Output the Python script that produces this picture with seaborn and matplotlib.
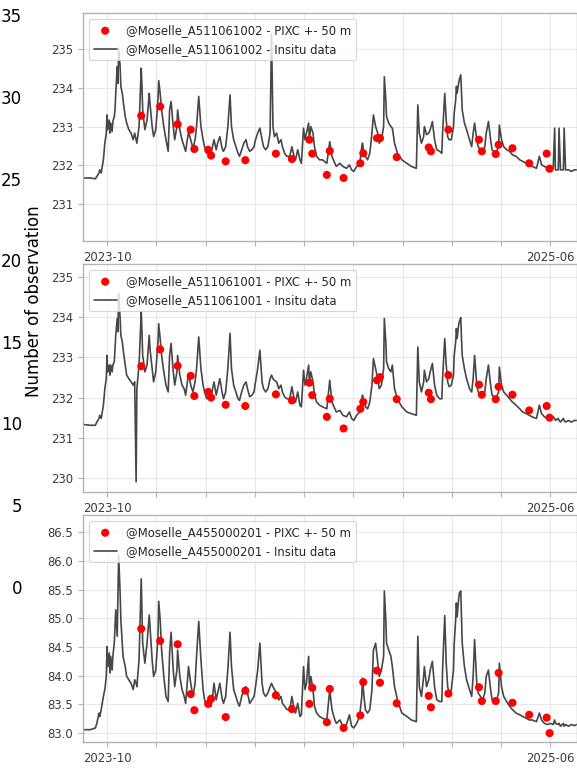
import numpy as np
import pandas as pd
import matplotlib
matplotlib.use("Agg")
import matplotlib.pyplot as plt
import seaborn as sns

sns.set_theme(style="white")
plt.rcParams['font.family'] = ['DejaVu Sans']

START = pd.Timestamp("2023-10-01")

# in-situ sampling: day offsets from 2023-10-01
insitu_days = [
    -33, -23, -16, -14, -11, -10, -8, -5, -3, -1,
    0, 1, 3, 4, 5, 7, 8, 10, 11, 12,
    14, 15, 16, 18, 19, 21, 22, 25, 27, 30,
    33, 36, 38, 40, 41, 44, 47, 48, 49, 52,
    55, 58, 59, 62, 64, 67, 70, 71, 73, 75,
    78, 81, 84, 86, 88, 91, 93, 96, 97, 100,
    103, 106, 108, 111, 112, 115, 118, 121, 123, 126,
    129, 132, 134, 137, 140, 143, 145, 147, 150, 152,
    155, 158, 160, 163, 166, 169, 171, 174, 177, 180,
    182, 185, 188, 191, 193, 196, 199, 202, 204, 207,
    210, 213, 215, 218, 221, 224, 226, 228, 230, 233,
    236, 239, 241, 244, 247,
    251, 254, 257, 259, 262, 265, 267, 270, 272, 274,
    277, 278, 280, 283, 285, 288, 292, 296, 302, 306,
    309, 313, 315, 320, 324, 329, 333, 336, 339, 343,
    347, 350, 351, 353, 355, 358, 361, 364, 366, 369,
    372, 374, 377, 380, 381, 383, 384, 387, 390, 392,
    395, 399, 405, 412, 418, 425, 427, 429, 432, 435,
    436, 439, 442, 444, 447, 450, 453, 457, 460, 461,
    464, 466, 468, 470, 473, 476, 477, 479, 480, 481,
    483, 484, 486, 487, 488, 491, 494, 498, 501, 503,
    505, 508, 510, 513, 516, 519, 521, 524, 527, 529,
    534, 538, 539, 542, 545, 549, 553, 557, 562, 567,
    571, 576, 580, 584, 590, 594, 597, 601, 605, 609,
    613, 615, 616, 620, 621, 623, 627, 628, 630, 634,
    638, 642, 645,
]

insitu_A511061002 = [
    231.67, 231.67, 231.65, 231.71, 231.80, 231.88, 231.80, 232.14, 232.57, 232.83,
    233.30, 232.92, 233.17, 232.83, 233.09, 232.87, 233.13, 233.26, 233.43, 233.86,
    234.55, 234.12, 235.03, 234.55, 234.04, 233.86, 233.69, 233.26, 233.09, 232.92,
    232.83, 232.66, 232.83, 232.66, 232.57, 233.00, 234.51, 234.04, 233.43, 232.92,
    233.17, 233.86, 233.60, 233.00, 232.74, 232.92, 233.69, 234.19, 233.86, 233.43,
    233.00, 232.66, 232.36, 233.43, 233.65, 233.00, 232.66, 233.00, 233.43, 232.92,
    232.66, 232.48, 232.36, 232.74, 232.87, 232.66, 232.44, 232.66, 233.00, 233.78,
    233.00, 232.66, 232.48, 232.31, 232.40, 232.31, 232.48, 232.66, 232.40, 232.57,
    232.74, 232.44, 232.36, 232.48, 233.00, 233.82, 233.00, 232.66, 232.48, 232.31,
    232.23, 232.40, 232.57, 232.66, 232.48, 232.36, 232.40, 232.48, 232.66, 232.83,
    232.96, 232.66, 232.48, 232.40, 232.48, 232.83, 235.40, 233.00, 232.74, 232.83,
    232.57, 232.66, 232.48, 232.31, 232.23,
    232.23, 232.48, 232.23, 232.14, 232.40, 232.14, 232.05, 232.96, 232.66, 232.83,
    233.09, 232.66, 233.00, 232.83, 232.48, 232.23, 232.14, 232.14, 232.05, 232.61,
    232.23, 232.05, 231.97, 232.05, 231.97, 231.92, 232.01, 231.88, 231.84, 231.97,
    232.01, 232.48, 232.57, 232.31, 232.23, 232.14, 232.31, 232.83, 233.30, 233.00,
    232.83, 232.57, 232.66, 233.00, 234.29, 233.69, 233.26, 233.09, 233.00, 232.96,
    232.57, 232.31, 232.14, 232.05, 231.97, 231.92, 233.56, 232.83, 232.57, 232.74,
    233.00, 232.79, 232.83, 232.92, 233.13, 232.66, 232.40, 232.36, 232.31, 232.83,
    233.86, 233.17, 232.74, 232.66, 232.66, 233.00, 233.35, 233.69, 234.04, 233.86,
    234.12, 234.21, 234.34, 233.86, 233.43, 233.09, 232.92, 232.66, 232.48, 232.83,
    233.09, 232.66, 232.48, 232.40, 232.31, 232.48, 232.83, 233.13, 232.66, 232.40,
    232.31, 232.48, 233.04, 232.66, 232.48, 232.40, 232.36, 232.27, 232.23, 232.14,
    232.10, 232.05, 232.01, 231.97, 231.92, 232.23, 232.01, 231.97, 231.92, 231.92,
    231.92, 232.96, 231.88, 231.88, 232.96, 231.88, 231.88, 232.96, 231.88, 231.88,
    231.84, 231.88, 231.88,
]

insitu_A511061001 = [
    231.33, 231.31, 231.31, 231.39, 231.48, 231.56, 231.48, 231.81, 232.22, 232.47,
    233.05, 232.64, 232.81, 232.56, 232.81, 232.64, 232.81, 232.89, 233.22, 233.55,
    233.97, 233.64, 234.60, 233.97, 233.55, 233.39, 233.22, 232.81, 232.56, 232.47,
    232.39, 232.31, 232.39, 229.90, 232.22, 232.81, 234.14, 233.64, 233.05, 232.64,
    232.81, 233.55, 233.22, 232.72, 232.39, 232.64, 233.39, 233.84, 233.47, 233.05,
    232.64, 232.31, 232.14, 233.05, 233.35, 232.64, 232.31, 232.64, 233.05, 232.56,
    232.31, 232.22, 232.06, 232.47, 232.60, 232.31, 232.14, 232.39, 232.72, 233.51,
    232.72, 232.31, 232.14, 231.97, 232.06, 231.97, 232.22, 232.39, 232.06, 232.22,
    232.47, 232.14, 231.97, 232.14, 232.72, 233.60, 232.72, 232.31, 232.14, 231.97,
    231.93, 232.14, 232.31, 232.39, 232.22, 232.02, 232.06, 232.14, 232.39, 232.72,
    233.18, 232.39, 232.22, 232.14, 232.22, 232.47, 232.56, 232.47, 232.43, 232.39,
    232.22, 232.31, 232.14, 232.02, 231.97,
    231.97, 232.27, 231.97, 231.89, 232.14, 231.81, 231.77, 232.68, 232.31, 232.47,
    232.81, 232.39, 232.64, 232.39, 232.06, 231.89, 231.81, 231.77, 231.72, 232.43,
    231.89, 231.72, 231.64, 231.68, 231.56, 231.52, 231.64, 231.48, 231.43, 231.56,
    231.64, 231.97, 232.06, 231.89, 231.77, 231.72, 231.89, 232.31, 232.97, 232.72,
    232.47, 232.22, 232.31, 232.72, 233.97, 233.39, 232.89, 232.72, 232.64, 232.81,
    232.22, 231.97, 231.77, 231.64, 231.60, 231.56, 233.26, 232.39, 232.14, 232.39,
    232.68, 232.39, 232.47, 232.64, 232.85, 232.31, 232.06, 231.97, 231.97, 232.47,
    233.47, 232.81, 232.39, 232.27, 232.31, 232.56, 233.05, 233.39, 233.72, 233.47,
    233.80, 233.89, 233.99, 233.47, 233.05, 232.72, 232.47, 232.22, 232.14, 232.47,
    233.05, 232.31, 232.14, 232.06, 232.02, 232.14, 232.47, 232.81, 232.31, 232.06,
    231.97, 232.14, 232.76, 232.31, 232.14, 232.06, 231.97, 231.89, 231.81, 231.72,
    231.64, 231.60, 231.56, 231.52, 231.48, 231.81, 231.60, 231.52, 231.48, 231.48,
    231.52, 231.48, 231.43, 231.48, 231.43, 231.39, 231.48, 231.43, 231.39, 231.43,
    231.39, 231.43, 231.43,
]

insitu_A455000201 = [
    83.06, 83.06, 83.09, 83.17, 83.35, 83.29, 83.41, 83.64, 83.76, 83.99,
    84.51, 84.16, 84.40, 84.05, 84.34, 84.10, 84.34, 84.57, 84.86, 85.15,
    84.69, 85.44, 86.10, 85.44, 84.98, 84.57, 84.34, 84.16, 83.99, 83.93,
    83.87, 83.76, 83.93, 83.87, 83.81, 84.28, 85.69, 85.15, 84.57, 84.22,
    84.57, 85.06, 84.86, 84.28, 83.99, 84.10, 84.69, 85.30, 84.98, 84.45,
    83.99, 83.64, 83.55, 84.40, 84.76, 84.10, 83.81, 84.10, 84.45, 83.99,
    83.76, 83.64, 83.52, 83.99, 84.16, 83.87, 83.64, 83.87, 84.34, 84.95,
    84.28, 83.76, 83.58, 83.47, 83.52, 83.47, 83.64, 83.87, 83.58, 83.70,
    83.87, 83.61, 83.52, 83.64, 84.10, 84.76, 84.16, 83.76, 83.64, 83.52,
    83.47, 83.64, 83.76, 83.81, 83.70, 83.52, 83.58, 83.64, 83.81, 84.10,
    84.57, 83.87, 83.70, 83.64, 83.70, 83.81, 83.87, 83.81, 83.76, 83.70,
    83.58, 83.64, 83.52, 83.47, 83.41,
    83.41, 83.64, 83.41, 83.35, 83.52, 83.29, 83.32, 84.16, 83.76, 83.87,
    84.34, 83.76, 83.99, 83.76, 83.47, 83.35, 83.29, 83.26, 83.23, 83.76,
    83.41, 83.23, 83.17, 83.23, 83.12, 83.15, 83.32, 83.12, 83.09, 83.17,
    83.29, 83.64, 83.96, 83.64, 83.41, 83.35, 83.41, 83.76, 84.45, 84.57,
    84.22, 83.99, 84.10, 84.34, 85.48, 84.98, 84.57, 84.45, 84.34, 84.16,
    83.81, 83.58, 83.35, 83.29, 83.23, 83.20, 84.69, 83.81, 83.64, 83.99,
    84.16, 83.81, 83.93, 84.10, 84.25, 83.81, 83.58, 83.55, 83.55, 84.10,
    85.05, 84.22, 83.81, 83.70, 83.76, 84.10, 84.57, 84.98, 85.27, 85.03,
    85.33, 85.44, 85.48, 85.03, 84.57, 84.16, 83.93, 83.76, 83.64, 83.99,
    84.63, 83.87, 83.70, 83.64, 83.58, 83.70, 83.99, 84.10, 83.76, 83.58,
    83.52, 83.70, 84.22, 83.81, 83.64, 83.55, 83.47, 83.41, 83.35, 83.32,
    83.29, 83.26, 83.23, 83.23, 83.20, 83.35, 83.23, 83.17, 83.15, 83.17,
    83.15, 83.23, 83.17, 83.15, 83.17, 83.12, 83.17, 83.12, 83.15, 83.12,
    83.15, 83.13, 83.15,
]

# PIXC observations: day offsets from 2023-10-01
pixc_days = [47, 73, 97, 115, 120, 139, 143, 163, 190, 232,
             254, 278, 282, 302, 306, 325, 348, 352, 371, 375,
             398, 442, 445, 469, 511, 515, 534, 538, 557, 580,
             604, 608]
pixc_A511061002 = [233.28, 233.52, 233.06, 232.92, 232.42, 232.40, 232.25, 232.10, 232.13, 232.30,
                   232.16, 232.66, 232.30, 231.75, 232.37, 231.67, 232.05, 232.31, 232.70, 232.70,
                   232.21, 232.46, 232.36, 232.92, 232.66, 232.36, 232.29, 232.53, 232.44, 232.05,
                   232.30, 231.91]
pixc_A511061001 = [232.78, 233.20, 232.79, 232.54, 232.04, 232.14, 232.00, 231.82, 231.79, 232.08,
                   231.93, 232.37, 232.06, 231.52, 231.97, 231.23, 231.72, 231.89, 232.43, 232.51,
                   231.96, 232.12, 231.96, 232.56, 232.32, 232.07, 231.96, 232.27, 232.07, 231.68,
                   231.79, 231.50]
pixc_A455000201 = [84.82, 84.61, 84.55, 83.68, 83.40, 83.51, 83.60, 83.28, 83.74, 83.66,
                   83.42, 83.51, 83.79, 83.19, 83.77, 83.09, 83.31, 83.89, 84.09, 83.88,
                   83.52, 83.65, 83.45, 83.69, 83.80, 83.56, 83.56, 84.05, 83.53, 83.32,
                   83.27, 83.00]

stations = ["@Moselle_A511061002", "@Moselle_A511061001", "@Moselle_A455000201"]
insitu_series = [insitu_A511061002, insitu_A511061001, insitu_A455000201]
pixc_series = [pixc_A511061002, pixc_A511061001, pixc_A455000201]
ylims = [(230.04, 235.93), (229.64, 235.32), (82.84, 86.80)]
yticks = [[231, 232, 233, 234, 235],
          [230, 231, 232, 233, 234, 235],
          [83.0, 83.5, 84.0, 84.5, 85.0, 85.5, 86.0, 86.5]]
ytick_fmt = ["{:.0f}", "{:.0f}", "{:.1f}"]
xtick_labels = ["2023-10", "", "", "", "", "", "", "", "", "2025-06"]
obs_ticks = [0, 5, 10, 15, 20, 25, 30, 35]

W, H = 577, 775
fig = plt.figure(figsize=(W / 100, H / 100), dpi=100)

# background "Number of observation" axis
bg = fig.add_axes([27.6 / W, (H - 586.5) / H, 0.5, (586.5 - 15.5) / H])
bg.set_ylim(0, 35)
bg.set_yticks(obs_ticks)
bg.set_yticklabels([str(t) for t in obs_ticks])
bg.tick_params(axis='y', length=0, pad=4, labelsize=12, labelcolor='black')
bg.set_xticks([])
for s in bg.spines.values():
    s.set_visible(False)
bg.patch.set_alpha(0)
fig.text(34.5 / W, 1 - 301 / H, "Number of observation", rotation=90,
         ha='center', va='center', fontsize=12, color='black')

# panels: (top_px, bottom_px)
panel_px = [(13.3, 241.0), (264.3, 492.3), (515.3, 742.3)]
left_px, right_px = 83.0, 576.5

xlim = (START + pd.Timedelta(days=-33), START + pd.Timedelta(days=645))
xtick_pos = [START + pd.Timedelta(days=float(d)) for d in np.linspace(0, 609, 10)]

for i, (top, bot) in enumerate(panel_px):
    ax = fig.add_axes([left_px / W, (H - bot) / H, (right_px - left_px) / W, (bot - top) / H])
    ax.set_facecolor('white')
    df_line = pd.DataFrame({"date": START + pd.to_timedelta(insitu_days, unit="D"),
                            "level": insitu_series[i]})
    df_pix = pd.DataFrame({"date": START + pd.to_timedelta(pixc_days, unit="D"),
                           "level": pixc_series[i]})
    sns.scatterplot(data=df_pix, x="date", y="level", ax=ax, color="#ff0000", s=34,
                    edgecolor="none", zorder=3, label=f"{stations[i]} - PIXC +- 50 m")
    sns.lineplot(data=df_line, x="date", y="level", ax=ax, color="#474747", lw=1.2,
                 estimator=None, zorder=2, label=f"{stations[i]} - Insitu data")
    ax.set_xlim(*xlim)
    ax.set_ylim(*ylims[i])
    ax.set_xticks(xtick_pos)
    ax.set_xticklabels(xtick_labels)
    ax.set_yticks(yticks[i])
    ax.set_yticklabels([ytick_fmt[i].format(v) for v in yticks[i]])
    ax.set_xlabel("")
    ax.set_ylabel("")
    ax.grid(True, color="#e8e8e8", lw=0.8)
    ax.set_axisbelow(True)
    for s in ax.spines.values():
        s.set_color("#b4b4b4")
        s.set_linewidth(1.0)
    ax.tick_params(axis='both', which='both', bottom=True, left=True, length=3.5,
                   width=0.8, color="#b4b4b4", labelsize=8.4, labelcolor="#3a3a3a", pad=3.5)
    leg = ax.legend(loc="upper left", fontsize=8.4, frameon=True, framealpha=0.8,
                    edgecolor="0.8", fancybox=True)
    leg.get_frame().set_linewidth(0.8)

fig.savefig("out.png", dpi=100, facecolor="white")
